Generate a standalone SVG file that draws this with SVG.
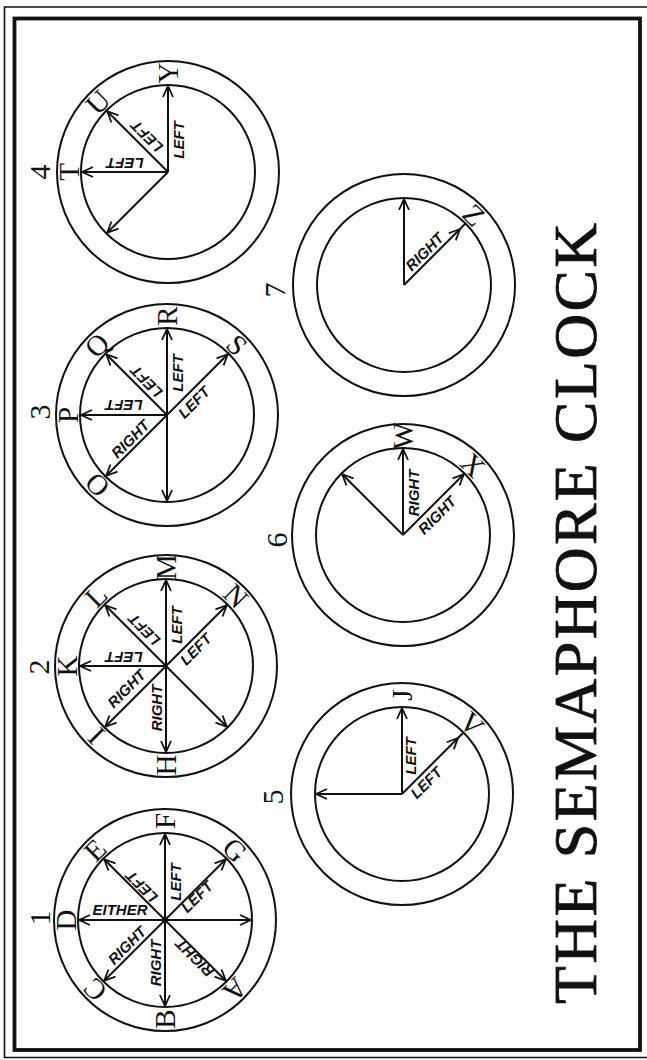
<svg xmlns="http://www.w3.org/2000/svg" width="647" height="1060" viewBox="0 0 647 1060">
<defs>
<style>
.ring{fill:none;stroke:#111;stroke-width:2}
.hand{fill:none;stroke:#111;stroke-width:2;marker-end:url(#ah)}
.seg{fill:none;stroke:#111;stroke-width:2}
.let{font-family:"Liberation Serif",serif;font-size:29px;fill:#111;text-anchor:middle}
.lab{font-family:"Liberation Sans",sans-serif;font-style:italic;font-weight:bold;font-size:15px;fill:#111;text-anchor:middle}
.num{font-family:"Liberation Serif",serif;font-size:30px;fill:#111;text-anchor:middle}
.title{font-family:"Liberation Serif",serif;font-size:62px;fill:#111;stroke:#111;stroke-width:0.8}
</style>
<marker id="ah" markerUnits="userSpaceOnUse" markerWidth="14" markerHeight="14" refX="0" refY="0" orient="auto" overflow="visible">
<path d="M-11,-5 L0,0 L-11,5" fill="none" stroke="#111" stroke-width="1.8"/>
</marker>
</defs>
<rect width="647" height="1060" fill="#fff"/>
<g id="frame">
<path d="M648,7 L4.5,7 L4.5,1057.5 L648,1057.5" fill="none" stroke="#111" stroke-width="1.6"/>
<rect x="14.5" y="18.5" width="625.5" height="1031.5" fill="none" stroke="#111" stroke-width="3.8"/>
</g>

<g id="clock1">
<circle class="ring" cx="165" cy="920" r="111"/>
<circle class="ring" cx="165" cy="920" r="87"/>
<text class="num" transform="translate(40,918) rotate(-90)" dy="0.34em">1</text>
<text class="let" transform="translate(66,920) rotate(-90)" dy="0.34em">D</text>
<text class="let" transform="translate(95,850) rotate(-45)" dy="0.34em">E</text>
<text class="let" transform="translate(165,821) rotate(-90)" dy="0.34em">F</text>
<text class="let" transform="translate(235,850) rotate(45)" dy="0.34em">G</text>
<text class="let" transform="translate(235,990) rotate(135)" dy="0.34em">A</text>
<text class="let" transform="translate(165,1019) rotate(-90)" dy="0.34em">B</text>
<text class="let" transform="translate(95,990) rotate(-135)" dy="0.34em">C</text>
<text class="lab" transform="translate(120,910)" dy="0.36em">EITHER</text>
<text class="lab" transform="translate(176,882) rotate(-90)" dy="0.36em">LEFT</text>
<text class="lab" transform="translate(141.6,886.8) rotate(-135)" dy="0.36em">LEFT</text>
<text class="lab" transform="translate(196.8,896.6) rotate(-45)" dy="0.36em">LEFT</text>
<text class="lab" transform="translate(126.8,945.4) rotate(-45)" dy="0.36em">RIGHT</text>
<text class="lab" transform="translate(156,963) rotate(-90)" dy="0.36em">RIGHT</text>
<text class="lab" transform="translate(194.7,958.1) rotate(-135)" dy="0.36em">RIGHT</text>
</g>

<g id="clock2">
<circle class="ring" cx="166" cy="666" r="111"/>
<circle class="ring" cx="166" cy="666" r="87"/>
<text class="num" transform="translate(39,667) rotate(-90)" dy="0.34em">2</text>
<text class="let" transform="translate(67,666) rotate(-90)" dy="0.34em">K</text>
<text class="let" transform="translate(96,596) rotate(-45)" dy="0.34em">L</text>
<text class="let" transform="translate(166,567) rotate(-90)" dy="0.34em">M</text>
<text class="let" transform="translate(236,596) rotate(45)" dy="0.34em">N</text>
<text class="let" transform="translate(166,765) rotate(-90)" dy="0.34em">H</text>
<text class="let" transform="translate(96,736) rotate(-135)" dy="0.34em">I</text>
<text class="lab" transform="translate(126.4,688.6) rotate(-45)" dy="0.36em">RIGHT</text>
<text class="lab" transform="translate(157,708) rotate(-90)" dy="0.36em">RIGHT</text>
<text class="lab" transform="translate(124,657) rotate(180)" dy="0.36em">LEFT</text>
<text class="lab" transform="translate(144.1,629.9) rotate(-135)" dy="0.36em">LEFT</text>
<text class="lab" transform="translate(177,625) rotate(-90)" dy="0.36em">LEFT</text>
<text class="lab" transform="translate(195.7,649.1) rotate(-45)" dy="0.36em">LEFT</text>
</g>

<g id="clock3">
<circle class="ring" cx="167" cy="415" r="111"/>
<circle class="ring" cx="167" cy="415" r="87"/>
<text class="num" transform="translate(40,412) rotate(-90)" dy="0.34em">3</text>
<text class="let" transform="translate(97,485) rotate(-135)" dy="0.34em">O</text>
<text class="let" transform="translate(68,415) rotate(-90)" dy="0.34em">P</text>
<text class="let" transform="translate(97,345) rotate(-45)" dy="0.34em">Q</text>
<text class="let" transform="translate(167,316) rotate(-90)" dy="0.34em">R</text>
<text class="let" transform="translate(237,345) rotate(45)" dy="0.34em">S</text>
<text class="lab" transform="translate(130.2,439) rotate(-45)" dy="0.36em">RIGHT</text>
<text class="lab" transform="translate(124,405) rotate(180)" dy="0.36em">LEFT</text>
<text class="lab" transform="translate(146.5,381.7) rotate(-135)" dy="0.36em">LEFT</text>
<text class="lab" transform="translate(178,373) rotate(-90)" dy="0.36em">LEFT</text>
<text class="lab" transform="translate(193.9,402.3) rotate(-45)" dy="0.36em">LEFT</text>
</g>

<g id="clock4">
<circle class="ring" cx="168" cy="172" r="111"/>
<circle class="ring" cx="168" cy="172" r="87"/>
<text class="num" transform="translate(40,172) rotate(-90)" dy="0.34em">4</text>
<text class="let" transform="translate(69,172) rotate(-90)" dy="0.34em">T</text>
<text class="let" transform="translate(98,102) rotate(-45)" dy="0.34em">U</text>
<text class="let" transform="translate(168,73) rotate(-90)" dy="0.34em">Y</text>
<text class="lab" transform="translate(125,163) rotate(180)" dy="0.36em">LEFT</text>
<text class="lab" transform="translate(146.8,136.6) rotate(-135)" dy="0.36em">LEFT</text>
<text class="lab" transform="translate(179,140) rotate(-90)" dy="0.36em">LEFT</text>
</g>

<g id="clock5">
<circle class="ring" cx="402" cy="794" r="111"/>
<circle class="ring" cx="402" cy="794" r="87"/>
<text class="num" transform="translate(273,797) rotate(-90)" dy="0.34em">5</text>
<text class="let" transform="translate(402,695) rotate(-90)" dy="0.34em">J</text>
<text class="let" transform="translate(472,724) rotate(45)" dy="0.34em">V</text>
<text class="lab" transform="translate(411,756) rotate(-90)" dy="0.36em">LEFT</text>
<text class="lab" transform="translate(426.1,782.7) rotate(-45)" dy="0.36em">LEFT</text>
</g>

<g id="clock6">
<circle class="ring" cx="403" cy="535" r="111"/>
<circle class="ring" cx="403" cy="535" r="87"/>
<text class="num" transform="translate(277,540) rotate(-90)" dy="0.34em">6</text>
<text class="let" transform="translate(403,436) rotate(-90)" dy="0.34em">W</text>
<text class="let" transform="translate(473,465) rotate(45)" dy="0.34em">X</text>
<text class="lab" transform="translate(414,493) rotate(-90)" dy="0.36em">RIGHT</text>
<text class="lab" transform="translate(437,515.2) rotate(-45)" dy="0.36em">RIGHT</text>
</g>

<g id="clock7">
<circle class="ring" cx="404" cy="285" r="111"/>
<circle class="ring" cx="404" cy="285" r="87"/>
<text class="num" transform="translate(275,290) rotate(-90)" dy="0.34em">7</text>
<text class="let" transform="translate(474,215) rotate(45)" dy="0.34em">Z</text>
<text class="lab" transform="translate(424.5,251.7) rotate(-45)" dy="0.36em">RIGHT</text>
</g>

<g id="hands">
<line class="hand" x1="165" y1="920" x2="79" y2="920"/>
<line class="hand" x1="165" y1="920" x2="104.2" y2="859.2"/>
<line class="hand" x1="165" y1="920" x2="165" y2="834"/>
<line class="hand" x1="165" y1="920" x2="225.8" y2="859.2"/>
<line class="hand" x1="165" y1="920" x2="251" y2="920"/>
<line class="hand" x1="165" y1="920" x2="225.8" y2="980.8"/>
<line class="hand" x1="165" y1="920" x2="165" y2="1006"/>
<line class="hand" x1="165" y1="920" x2="104.2" y2="980.8"/>

<line class="hand" x1="166" y1="666" x2="80" y2="666"/>
<line class="hand" x1="166" y1="666" x2="105.2" y2="605.2"/>
<line class="hand" x1="166" y1="666" x2="166" y2="580"/>
<line class="hand" x1="166" y1="666" x2="226.8" y2="605.2"/>
<line class="hand" x1="166" y1="666" x2="226.8" y2="726.8"/>
<line class="hand" x1="166" y1="666" x2="166" y2="752"/>
<line class="hand" x1="166" y1="666" x2="105.2" y2="726.8"/>

<line class="hand" x1="167" y1="415" x2="81" y2="415"/>
<line class="hand" x1="167" y1="415" x2="106.2" y2="354.2"/>
<line class="hand" x1="167" y1="415" x2="167" y2="329"/>
<line class="hand" x1="167" y1="415" x2="227.8" y2="354.2"/>
<line class="hand" x1="167" y1="415" x2="167" y2="501"/>
<line class="hand" x1="167" y1="415" x2="106.2" y2="475.8"/>

<line class="hand" x1="168" y1="172" x2="82" y2="172"/>
<line class="hand" x1="168" y1="172" x2="107.2" y2="111.2"/>
<line class="hand" x1="168" y1="172" x2="168" y2="86"/>
<line class="hand" x1="168" y1="172" x2="107.2" y2="232.8"/>

<line class="hand" x1="402" y1="794" x2="402" y2="708"/>
<line class="hand" x1="402" y1="794" x2="458" y2="738"/>
<line class="seg" x1="458" y1="738" x2="463.5" y2="732.5"/>
<line class="hand" x1="402" y1="794" x2="316" y2="794"/>

<line class="hand" x1="403" y1="535" x2="403" y2="449"/>
<line class="hand" x1="403" y1="535" x2="463.8" y2="474.2"/>
<line class="hand" x1="403" y1="535" x2="342.2" y2="474.2"/>

<line class="hand" x1="404" y1="285" x2="404" y2="199"/>
<line class="hand" x1="404" y1="285" x2="460" y2="229"/>
<line class="seg" x1="460" y1="229" x2="465.5" y2="223.5"/>
</g>

<g id="title">
<text class="title" transform="translate(596,1004) rotate(-90)" textLength="781" lengthAdjust="spacing">THE SEMAPHORE CLOCK</text>
</g>
</svg>
